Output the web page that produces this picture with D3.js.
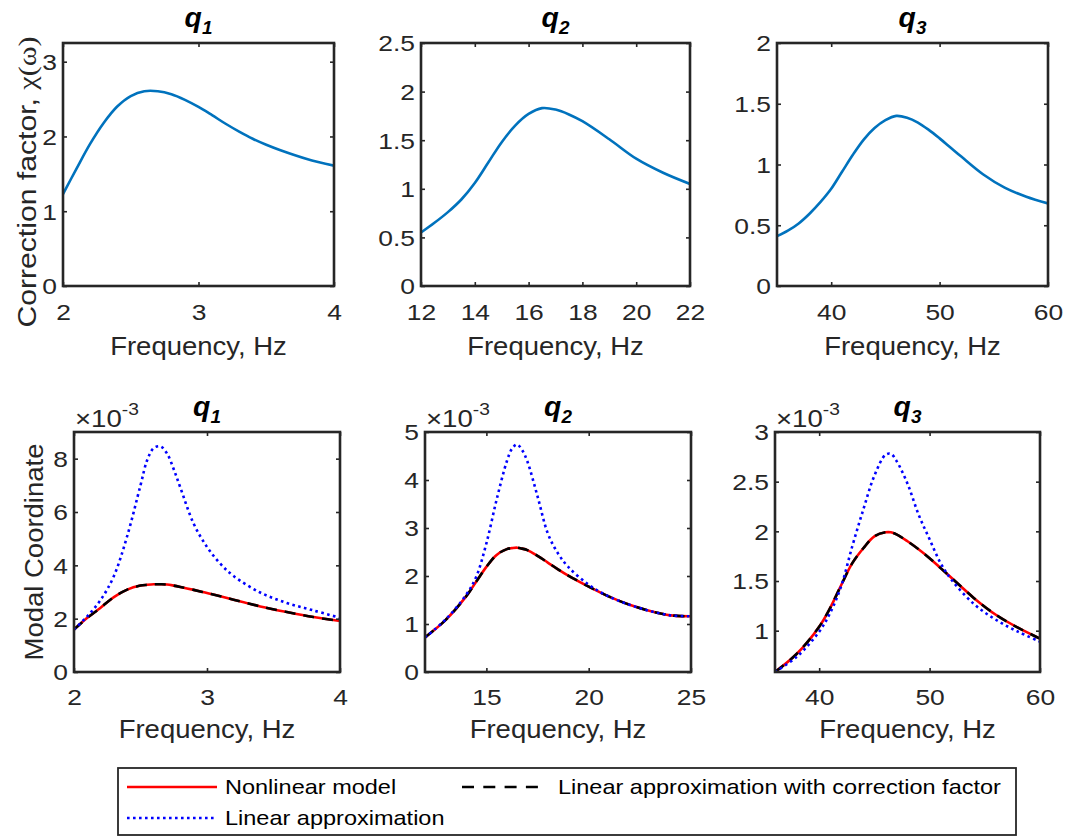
<!DOCTYPE html>
<html>
<head>
<meta charset="utf-8">
<script src="https://cdn.jsdelivr.net/npm/d3@7"></script>
<style>
  html, body { margin: 0; padding: 0; background: #fff; }
  svg { display: block; }
</style>
</head>
<body>
<svg id="fig" width="1078" height="838"></svg>
<script>
// ---- Correction factor χ(ω) for each mode ----
const chiFreq1 = [2.0, 2.1, 2.2, 2.3, 2.4, 2.5, 2.6, 2.7, 2.8, 2.9, 3.0, 3.1, 3.2, 3.3, 3.4, 3.5, 3.6, 3.8, 4.0];
const chiVal1  = [1.23, 1.57, 1.90, 2.18, 2.40, 2.54, 2.605, 2.605, 2.565, 2.49, 2.395, 2.285, 2.17, 2.065, 1.97, 1.89, 1.82, 1.70, 1.61];

const chiFreq2 = [12, 12.5, 13, 13.5, 14, 14.5, 15, 15.5, 16, 16.5, 17, 17.5, 18, 19, 20, 21, 22];
const chiVal2  = [0.55, 0.65, 0.76, 0.89, 1.06, 1.27, 1.48, 1.65, 1.77, 1.83, 1.815, 1.765, 1.695, 1.51, 1.31, 1.165, 1.05];

const chiFreq3 = [35, 36, 37, 38, 39, 40, 41, 42, 43, 44, 45, 46, 47, 48, 49, 50, 51, 52, 54, 56, 58, 60];
const chiVal3  = [0.41, 0.455, 0.515, 0.595, 0.69, 0.80, 0.94, 1.08, 1.205, 1.30, 1.365, 1.40, 1.385, 1.345, 1.285, 1.215, 1.14, 1.065, 0.92, 0.81, 0.735, 0.68];

// ---- Modal coordinate amplitude (values in units of 10^-3) ----
const MODAL_EXP = -3;

const respFreq1 = [2.0, 2.1, 2.2, 2.3, 2.4, 2.5, 2.55, 2.6, 2.65, 2.7, 2.75, 2.8, 2.9, 3.0, 3.1, 3.2, 3.4, 3.6, 3.8, 4.0];
const nonlin1   = [1.59, 2.03, 2.41, 2.81, 3.09, 3.24, 3.27, 3.29, 3.29, 3.28, 3.24, 3.19, 3.08, 2.96, 2.84, 2.71, 2.46, 2.25, 2.06, 1.91];
const linear1   = [1.59, 2.09, 2.70, 3.60, 5.10, 7.00, 7.94, 8.40, 8.46, 8.19, 7.60, 6.91, 5.56, 4.69, 4.06, 3.60, 2.98, 2.59, 2.31, 2.03];
const corr1     = nonlin1.slice();

const respFreq2 = [12, 13, 14, 14.5, 15, 15.5, 16, 16.25, 16.5, 16.75, 17, 17.5, 18, 18.5, 19, 20, 21, 22, 23, 24, 25];
const nonlin2   = [0.72, 1.08, 1.57, 1.88, 2.19, 2.44, 2.56, 2.58, 2.59, 2.57, 2.54, 2.42, 2.28, 2.14, 2.01, 1.78, 1.57, 1.40, 1.27, 1.18, 1.16];
const linear2   = [0.72, 1.09, 1.60, 1.98, 2.68, 3.59, 4.39, 4.65, 4.74, 4.62, 4.39, 3.66, 2.89, 2.47, 2.19, 1.82, 1.57, 1.40, 1.27, 1.18, 1.16];
const corr2     = nonlin2.slice();

const respFreq3 = [36, 38, 40, 41, 42, 43, 44, 45, 46, 46.5, 47, 48, 49, 50, 51, 52, 54, 56, 58, 60];
const nonlin3   = [0.584, 0.77, 1.04, 1.23, 1.46, 1.68, 1.83, 1.95, 1.99, 1.99, 1.97, 1.90, 1.82, 1.73, 1.63, 1.53, 1.33, 1.16, 1.03, 0.92];
const linear3   = [0.584, 0.74, 0.99, 1.18, 1.45, 1.85, 2.22, 2.56, 2.77, 2.78, 2.71, 2.48, 2.17, 1.92, 1.68, 1.51, 1.27, 1.11, 0.99, 0.89];
const corr3     = nonlin3.slice();

// ---- Axis ticks ----
const chiXTicks  = [[2, 3, 4], [12, 14, 16, 18, 20, 22], [40, 50, 60]];
const chiYTicks  = [[0, 1, 2, 3], [0, 0.5, 1, 1.5, 2, 2.5], [0, 0.5, 1, 1.5, 2]];
const respXTicks = [[2, 3, 4], [15, 20, 25], [40, 50, 60]];
const respYTicks = [[0, 2, 4, 6, 8], [0, 1, 2, 3, 4, 5], [1, 1.5, 2, 2.5, 3]];

const modeNames = ["1", "2", "3"];
const legendLabels = ["Nonlinear model", "Linear approximation", "Linear approximation with correction factor"];

// ---- Styling ----
const FONT = "'Liberation Sans', Arial, Helvetica, sans-serif";
const INK = "#262626";
const TICK_SIZE = 22;
const SX_TICK = 1.2;     // horizontal glyph stretch of tick labels
const SX_LABEL = 1.1;    // along-text stretch of axis labels
const SX_LEGEND = 1.12;

const styles = {
  chi:    { stroke: "#0072BD", width: 2.6, dash: null },
  nonlin: { stroke: "#FF0000", width: 2.6, dash: null },
  corr:   { stroke: "#000000", width: 2.6, dash: "11,8" },
  linear: { stroke: "#0000FF", width: 2.6, dash: "2.6,3.4" }
};

const svg = d3.select("#fig");

const fmt = d => String(+d.toFixed(3));

function stretchedText(g, x, y, str, opts) {
  const t = g.append("text")
    .attr("transform", `translate(${x},${y}) scale(${opts.sx || 1},1)`)
    .attr("text-anchor", opts.anchor || "middle")
    .attr("font-family", FONT)
    .attr("font-size", opts.size)
    .attr("fill", INK);
  if (opts.weight) t.attr("font-weight", opts.weight);
  if (opts.italic) t.attr("font-style", "italic");
  if (str !== null) t.text(str);
  return t;
}

function drawPanel(p) {
  const g = svg.append("g");
  const x = d3.scaleLinear().domain(p.xDomain).range([p.x0, p.x1]);
  const y = d3.scaleLinear().domain(p.yDomain).range([p.y1, p.y0]);
  const TL = 4;

  const clipId = "clip-" + p.id;
  svg.append("defs").append("clipPath").attr("id", clipId)
    .append("rect").attr("x", p.x0).attr("y", p.y0)
    .attr("width", p.x1 - p.x0).attr("height", p.y1 - p.y0);

  // curves
  const lines = g.append("g").attr("clip-path", `url(#${clipId})`);
  p.series.forEach(s => {
    const pts = s.x.map((v, i) => [v, s.y[i]]);
    const line = d3.line().x(d => x(d[0])).y(d => y(d[1])).curve(d3.curveCatmullRom.alpha(0.5));
    const path = lines.append("path").datum(pts)
      .attr("d", line).attr("fill", "none")
      .attr("stroke", s.style.stroke).attr("stroke-width", s.style.width)
      .attr("stroke-linejoin", "round");
    if (s.style.dash) path.attr("stroke-dasharray", s.style.dash);
  });

  // axes with inward ticks on all four sides
  const ax = (gen, tx, ty, labels) => {
    const a = g.append("g").attr("transform", `translate(${tx},${ty})`).call(gen);
    a.select(".domain").remove();
    a.selectAll(".tick line").attr("stroke", INK).attr("stroke-width", 1.6);
    if (!labels) a.selectAll(".tick text").remove();
    return a;
  };
  const bottom = ax(d3.axisBottom(x).tickValues(p.xTicks).tickFormat(fmt).tickSizeInner(-TL).tickSizeOuter(0), 0, p.y1, true);
  bottom.selectAll(".tick text")
    .attr("y", null).attr("dy", null)
    .attr("transform", `translate(0,${p.xTickBase}) scale(${SX_TICK},1)`)
    .attr("font-family", FONT).attr("font-size", TICK_SIZE).attr("fill", INK);
  ax(d3.axisTop(x).tickValues(p.xTicks).tickSizeInner(-TL).tickSizeOuter(0), 0, p.y0, false);
  const left = ax(d3.axisLeft(y).tickValues(p.yTicks).tickFormat(fmt).tickSizeInner(-TL).tickSizeOuter(0), p.x0, 0, true);
  left.selectAll(".tick text")
    .attr("x", null).attr("dy", "0.36em")
    .attr("transform", `translate(-6,0) scale(${SX_TICK},1)`)
    .attr("text-anchor", "end")
    .attr("font-family", FONT).attr("font-size", TICK_SIZE).attr("fill", INK);
  ax(d3.axisRight(y).tickValues(p.yTicks).tickSizeInner(-TL).tickSizeOuter(0), p.x1, 0, false);

  // frame
  g.append("rect").attr("x", p.x0).attr("y", p.y0)
    .attr("width", p.x1 - p.x0).attr("height", p.y1 - p.y0)
    .attr("fill", "none").attr("stroke", INK).attr("stroke-width", 2.6);

  // title q_n
  const cx = (p.x0 + p.x1) / 2;
  const t = stretchedText(g, cx, p.titleBase, null, { size: 27, weight: "bold", italic: true, sx: 1.05 });
  t.attr("fill", "#000");
  t.append("tspan").text("q");
  t.append("tspan").attr("font-size", 18).attr("dy", 7).text(p.mode);

  // x label
  stretchedText(g, cx, p.xLabelBase, "Frequency, Hz", { size: 25, sx: SX_LABEL });

  // y label
  if (p.yLabel) {
    const yl = g.append("text")
      .attr("transform", `translate(${p.yLabelX},${p.yLabelY}) rotate(-90) scale(${p.yLabelSx},1)`)
      .attr("text-anchor", "middle")
      .attr("font-family", FONT).attr("font-size", p.yLabelSize).attr("fill", INK);
    p.yLabel(yl);
  }

  // exponent
  if (p.exponent !== undefined) {
    const e = stretchedText(g, p.x0 + 1, p.y0 - 5, null, { size: 23, anchor: "start", sx: 1.2 });
    e.append("tspan").text("\u00d710");
    e.append("tspan").attr("font-size", 16).attr("dy", -12).text(String(p.exponent));
  }
}

// Top row: correction factor
const topBoxes = [[63, 334], [421, 690], [777, 1048]];
const chiSets = [[chiFreq1, chiVal1], [chiFreq2, chiVal2], [chiFreq3, chiVal3]];
const chiXDomains = [[2, 4], [12, 22], [35, 60]];
const chiYDomains = [[0, 3.25], [0, 2.5], [0, 2]];

chiSets.forEach((s, i) => {
  drawPanel({
    id: "chi" + i,
    x0: topBoxes[i][0], x1: topBoxes[i][1], y0: 43, y1: 286,
    xDomain: chiXDomains[i], yDomain: chiYDomains[i],
    xTicks: chiXTicks[i], yTicks: chiYTicks[i],
    xTickBase: 34, xLabelBase: 355, titleBase: 27, mode: modeNames[i],
    series: [{ x: s[0], y: s[1], style: styles.chi }],
    yLabel: i === 0 ? (t => {
      t.append("tspan").text("Correction factor, ");
      t.append("tspan").attr("font-family", "'Liberation Serif', 'DejaVu Serif', serif").text("\u03c7(\u03c9)");
    }) : null,
    yLabelX: 36, yLabelY: 182, yLabelSize: 26, yLabelSx: 1.16
  });
});

// Bottom row: modal coordinate responses
const botBoxes = [[74, 340], [425, 691], [775, 1040]];
const respSets = [
  [respFreq1, nonlin1, linear1, corr1],
  [respFreq2, nonlin2, linear2, corr2],
  [respFreq3, nonlin3, linear3, corr3]
];
const respXDomains = [[2, 4], [12, 25], [36, 60]];
const respYDomains = [[0, 9], [0, 5], [0.584, 3]];

respSets.forEach((s, i) => {
  drawPanel({
    id: "resp" + i,
    x0: botBoxes[i][0], x1: botBoxes[i][1], y0: 432, y1: 672,
    xDomain: respXDomains[i], yDomain: respYDomains[i],
    xTicks: respXTicks[i], yTicks: respYTicks[i],
    xTickBase: 33, xLabelBase: 738, titleBase: 416, mode: modeNames[i],
    series: [
      { x: s[0], y: s[1], style: styles.nonlin },
      { x: s[0], y: s[3], style: styles.corr },
      { x: s[0], y: s[2], style: styles.linear }
    ],
    exponent: MODAL_EXP,
    yLabel: i === 0 ? (t => t.text("Modal Coordinate")) : null,
    yLabelX: 43, yLabelY: 552, yLabelSize: 25, yLabelSx: 1.1
  });
});

// Legend
const lg = svg.append("g");
lg.append("rect").attr("x", 118).attr("y", 768).attr("width", 898).attr("height", 67)
  .attr("fill", "#fff").attr("stroke", INK).attr("stroke-width", 1.8);
const legendItems = [
  { style: styles.nonlin, label: legendLabels[0], lx: 127, len: 90, tx: 225, y: 787, dash: null },
  { style: styles.linear, label: legendLabels[1], lx: 127, len: 90, tx: 225, y: 818, dash: styles.linear.dash },
  { style: styles.corr,   label: legendLabels[2], lx: 462, len: 80, tx: 558, y: 787, dash: "12,9.3" }
];
legendItems.forEach(it => {
  const l = lg.append("line").attr("x1", it.lx).attr("x2", it.lx + it.len)
    .attr("y1", it.y).attr("y2", it.y)
    .attr("stroke", it.style.stroke).attr("stroke-width", it.style.width);
  if (it.dash) l.attr("stroke-dasharray", it.dash);
  stretchedText(lg, it.tx, it.y + 7, it.label, { size: 21, anchor: "start", sx: SX_LEGEND }).attr("fill", "#000");
});
</script>
</body>
</html>
